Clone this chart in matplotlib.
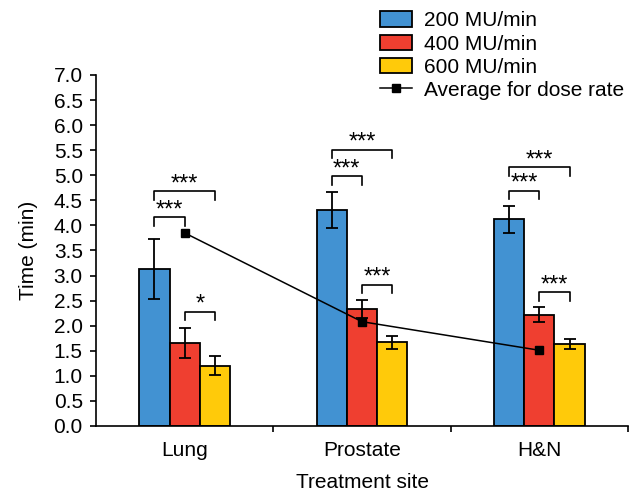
import matplotlib
matplotlib.use("Agg")
import matplotlib.pyplot as plt
import numpy as np
from matplotlib.patches import Patch
from matplotlib.lines import Line2D

plt.rcParams["font.family"] = ["Liberation Sans", "DejaVu Sans"]

# data
sites = ["Lung", "Prostate", "H&N"]
rates = ["200 MU/min", "400 MU/min", "600 MU/min"]
time_200 = [3.13, 4.31, 4.12]
time_400 = [1.65, 2.33, 2.22]
time_600 = [1.20, 1.67, 1.63]
err_200 = [0.59, 0.36, 0.27]
err_400 = [0.30, 0.18, 0.15]
err_600 = [0.19, 0.13, 0.10]
avg_rate = [3.85, 2.08, 1.51]

# significance brackets: (site index, bar a, bar b, bracket top, label)
brackets = [
    (0, 0, 1, 4.16, "***"), (0, 0, 2, 4.68, "***"), (0, 1, 2, 2.28, "*"),
    (1, 0, 1, 4.98, "***"), (1, 0, 2, 5.51, "***"), (1, 1, 2, 2.82, "***"),
    (2, 0, 1, 4.69, "***"), (2, 0, 2, 5.16, "***"), (2, 1, 2, 2.67, "***"),
]

colors = ["#4292d2", "#ef3f30", "#ffca0a"]
width = 0.171
x = np.arange(len(sites))
offsets = [-width, 0, width]
fs = 15

fig = plt.figure(figsize=(6.41, 4.94), dpi=100)
ax = fig.add_axes([0.1498, 0.1377, 0.8299, 0.7105])

for vals, errs, col, off in zip([time_200, time_400, time_600],
                                [err_200, err_400, err_600], colors, offsets):
    ax.bar(x + off, vals, width, color=col, edgecolor="black", linewidth=1.3,
           zorder=2)
    ax.errorbar(x + off, vals, yerr=errs, fmt="none", ecolor="black",
                elinewidth=1.3, capsize=4.3, capthick=1.3, zorder=3)

ax.plot(x, avg_rate, color="black", linewidth=1.1, marker="s",
        markersize=5.5, zorder=4)

leg_drop = 0.17
for site, a, b, top, label in brackets:
    xa, xb = x[site] + offsets[a], x[site] + offsets[b]
    ax.plot([xa, xa, xb, xb], [top - leg_drop, top, top, top - leg_drop],
            color="black", linewidth=1.2, zorder=3)
    ax.text((xa + xb) / 2, top - 0.08, label, ha="center", va="bottom",
            fontsize=17)

ax.set_xlim(-0.5, 2.5)
ax.set_ylim(0, 7.0)
ax.set_yticks(np.arange(0, 7.01, 0.5))
ax.set_yticklabels([f"{v:.1f}" for v in np.arange(0, 7.01, 0.5)])
ax.set_xticks(x)
ax.set_xticklabels(sites)
ax.set_xticks([0.5, 1.5, 2.5], minor=True)
ax.tick_params(axis="x", which="major", length=0, labelsize=fs, pad=11)
ax.tick_params(axis="x", which="minor", length=4.5, width=1.2, direction="out")
ax.tick_params(axis="y", length=4.5, width=1.2, direction="out", labelsize=fs,
               pad=5)

for side in ["top", "right"]:
    ax.spines[side].set_visible(False)
for side in ["left", "bottom"]:
    ax.spines[side].set_linewidth(1.2)

ax.set_xlabel("Treatment site", fontsize=fs, labelpad=9.5)
ax.set_ylabel("Time (min)", fontsize=fs, labelpad=11.5)

handles = [Patch(facecolor=c, edgecolor="black", linewidth=1.3) for c in colors]
handles.append(Line2D([], [], color="black", linewidth=1.1, marker="s",
                      markersize=5.5))
fig.legend(handles, rates + ["Average for dose rate"], loc="upper left",
           bbox_to_anchor=(0.593, 0.977), frameon=False, fontsize=fs,
           handlelength=1.53, handleheight=0.77, labelspacing=0.2,
           handletextpad=0.58, borderaxespad=0, borderpad=0)

fig.savefig("out.png", dpi=100)
